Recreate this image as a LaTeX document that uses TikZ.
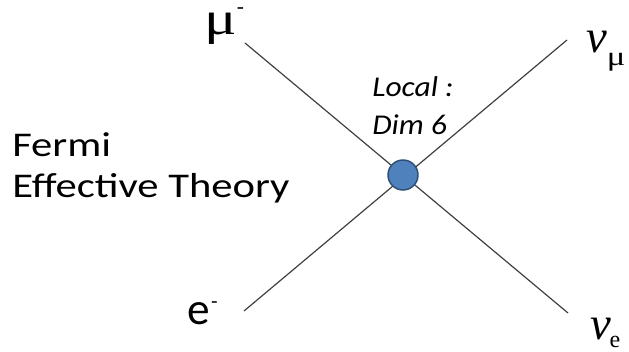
\documentclass[tikz,border=0pt]{standalone}
\usepackage{fontspec}
\setmainfont{Carlito}
\newfontfamily\greekfont{Liberation Serif}
\newfontfamily\widegreek{Liberation Serif}[FakeStretch=1.3]
\newfontfamily\widesans{Carlito}[FakeStretch=1.23]
\newfontfamily\midsans{Carlito}[FakeStretch=1.1]
\usetikzlibrary{positioning}
\definecolor{vtxblue}{HTML}{4F81BD}
\definecolor{vtxedge}{HTML}{2F4F74}
\newcommand{\supminus}[2]{\raisebox{#1}{\fontsize{#2}{#2}\selectfont -}}
\newcommand{\subpart}[3]{\raisebox{#1}{\fontsize{#2}{#2}\selectfont #3}}

\begin{document}
\begin{tikzpicture}[x=0.75pt, y=-0.75pt, every node/.style={inner sep=0pt},
    leg/.style={draw=black!75, line width=0.9pt},
    vertex/.style={circle, draw=vtxedge, line width=1.1pt, fill=vtxblue, minimum size=22.5pt},
    particle/.style={anchor=base west, font=\greekfont\fontsize{35}{35}\selectfont}]
    \useasboundingbox (0,0) rectangle (629,352);
    % external legs
    \coordinate (mu) at (245,43);
    \coordinate (numu) at (567,40);
    \coordinate (el) at (244,311);
    \coordinate (nue) at (568,313);
    \draw[leg] (mu) -- (nue);
    \draw[leg] (el) -- (numu);
    % four-fermion contact point
    \node[vertex] (vtx) at (403,175) {};
    \node[anchor=base west, align=left, font=\midsans\itshape\fontsize{21.5}{28.5}\selectfont] (local) at (372,135)
      {Local :\\Dim 6};
    % particle labels
    \node[particle] (mulab) at (204,35) {{\widegreek μ}\supminus{16pt}{16}};
    \node[particle] (numulab) at (586,53) {\itshape ν\subpart{-9.5pt}{20}{\widegreek\upshape μ}};
    \node[particle] (nuelab) at (590,340) {\itshape ν\kern-1pt\subpart{-6pt}{18}{\upshape e}};
    \node[anchor=base west, font=\fontsize{34}{34}\selectfont] (elab) at (187,325) {e\kern1pt\supminus{12pt}{16}};
    \node[anchor=base west, align=left, font=\widesans\fontsize{26}{30.75}\selectfont] (fermi) at (12,198)
      {Fermi\\Effective Theory};
\end{tikzpicture}
\end{document}
